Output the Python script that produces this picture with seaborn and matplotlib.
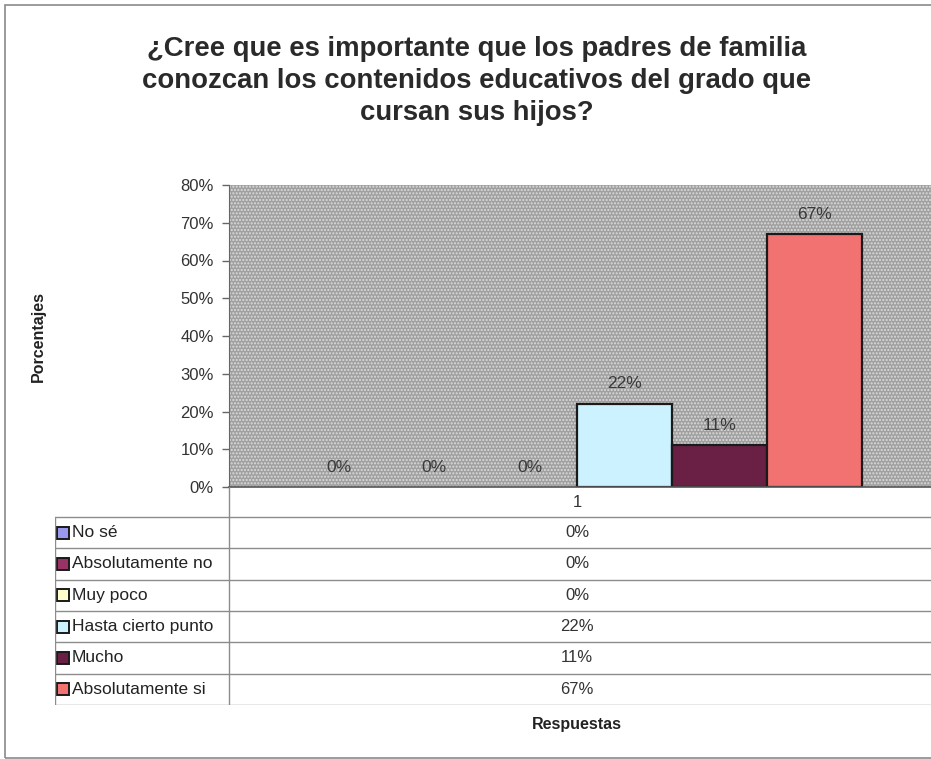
import matplotlib.pyplot as plt
import matplotlib.patches as mpatches
from matplotlib.ticker import PercentFormatter
import pandas as pd
import seaborn as sns

# datos
grupo = ['1']
respuestas = ['No sé', 'Absolutamente no', 'Muy poco',
              'Hasta cierto punto', 'Mucho', 'Absolutamente si']
porcentajes = [0, 0, 0, 22, 11, 67]
colores = ['#9999ee', '#993366', '#ffffcc', '#ccf2ff', '#6a2044', '#f27272']
etiquetas = ['0%', '0%', '0%', '22%', '11%', '67%']

titulo = ('¿Cree que es importante que los padres de familia\n'
          'conozcan los contenidos educativos del grado que\n'
          'cursan sus hijos?')

df = pd.DataFrame({'grupo': grupo * len(respuestas),
                   'respuesta': respuestas,
                   'pct': [v / 100 for v in porcentajes]})

sns.set_style('white')
plt.rcParams['font.family'] = ['Liberation Sans', 'DejaVu Sans']

W, H = 931, 759
fig = plt.figure(figsize=(W / 100, H / 100), dpi=100)

# marco de la figura
fig.patches.append(mpatches.Rectangle((5 / W, 1 / H), 1.2, 1 - 6 / H,
                                      transform=fig.transFigure, fill=False,
                                      edgecolor='#8a8a8a', linewidth=1.2))

# area del grafico (en pixeles)
px_left, px_right, px_top, px_bottom = 229, 931, 185, 487
cat_w = 696
ax = fig.add_axes([px_left / W, 1 - px_bottom / H,
                   (px_right - px_left) / W, (px_bottom - px_top) / H])
ax.set_facecolor('#a0a0a0')
ax.add_patch(mpatches.Rectangle((0, 0), 1, 1, transform=ax.transAxes,
                                facecolor='none', edgecolor='#dcdcdc',
                                hatch='.....', linewidth=0, zorder=0))

sns.barplot(data=df, x='grupo', y='pct', hue='respuesta',
            hue_order=respuestas, palette=colores, width=0.82,
            saturation=1, edgecolor='#1a1a1a', linewidth=1.6, ax=ax,
            legend=False, errorbar=None, zorder=2)

for cont, lab, v in zip(ax.containers, etiquetas, porcentajes):
    for bar in cont:
        if v == 0:
            bar.set_linewidth(0)
    ax.bar_label(cont, labels=[lab], padding=9, fontsize=12.5,
                 color='#3a3a3a')

ax.set_xlim(-0.5, -0.5 + (px_right - px_left) / cat_w)
ax.set_ylim(0, 0.8)
ax.set_yticks([i / 10 for i in range(9)])
ax.yaxis.set_major_formatter(PercentFormatter(1.0, decimals=0))
ax.tick_params(axis='y', left=True, length=5, width=1, color='#666666',
               labelsize=12, labelcolor='#333333', pad=6)
ax.set_xticks([])
ax.set_xlabel('')
ax.set_ylabel('')
for s in ['top', 'right']:
    ax.spines[s].set_visible(False)
ax.spines['left'].set_color('#666666')
ax.spines['bottom'].set_color('#555555')
ax.spines['bottom'].set_linewidth(1.2)

# tabla de datos debajo del grafico
tb_left, tb_right, tb_top, tb_bottom = 55, 931, 487, 705
tab = fig.add_axes([tb_left / W, 1 - tb_bottom / H,
                    (tb_right - tb_left) / W, (tb_bottom - tb_top) / H])
tab.set_xlim(tb_left, tb_right)
tab.set_ylim(tb_bottom, tb_top)
tab.axis('off')

cx = px_left + (0 - ax.get_xlim()[0]) * cat_w
line_c = '#8c8c8c'
head_h = 30
row_h = (tb_bottom - tb_top - head_h) / len(respuestas)
tab.text(cx, tb_top + head_h / 2, grupo[0], ha='center', va='center',
         fontsize=12, color='#333333')
tab.plot([px_left, px_left], [tb_top, tb_bottom], color=line_c, lw=1)
tab.plot([tb_left, tb_left], [tb_top + head_h, tb_bottom], color=line_c, lw=1)
for i, (r, c, lab) in enumerate(zip(respuestas, colores, etiquetas)):
    y0 = tb_top + head_h + i * row_h
    tab.plot([tb_left, tb_right], [y0, y0], color=line_c, lw=1)
    yc = y0 + row_h / 2
    tab.add_patch(mpatches.Rectangle((tb_left + 2, yc - 6), 12, 12,
                                     facecolor=c, edgecolor='#1a1a1a',
                                     linewidth=1.4))
    tab.text(tb_left + 17, yc, r, ha='left', va='center', fontsize=12.5,
             color='#222222')
    tab.text(cx, yc, lab, ha='center', va='center', fontsize=12,
             color='#333333')
tab.plot([tb_left, tb_right], [tb_bottom, tb_bottom], color=line_c, lw=1)

fig.text(477 / W, 1 - 81 / H, titulo, ha='center', va='center',
         fontsize=19.8, fontweight='bold', color='#2a2a2a', linespacing=1.28)
fig.text(38 / W, 1 - 336 / H, 'Porcentajes', rotation=90, ha='center',
         va='center', fontsize=11.5, fontweight='bold', color='#222222')
fig.text(cx / W, 1 - 724 / H, 'Respuestas', ha='center', va='center',
         fontsize=11.5, fontweight='bold', color='#222222')

fig.savefig('out.png', dpi=100)
